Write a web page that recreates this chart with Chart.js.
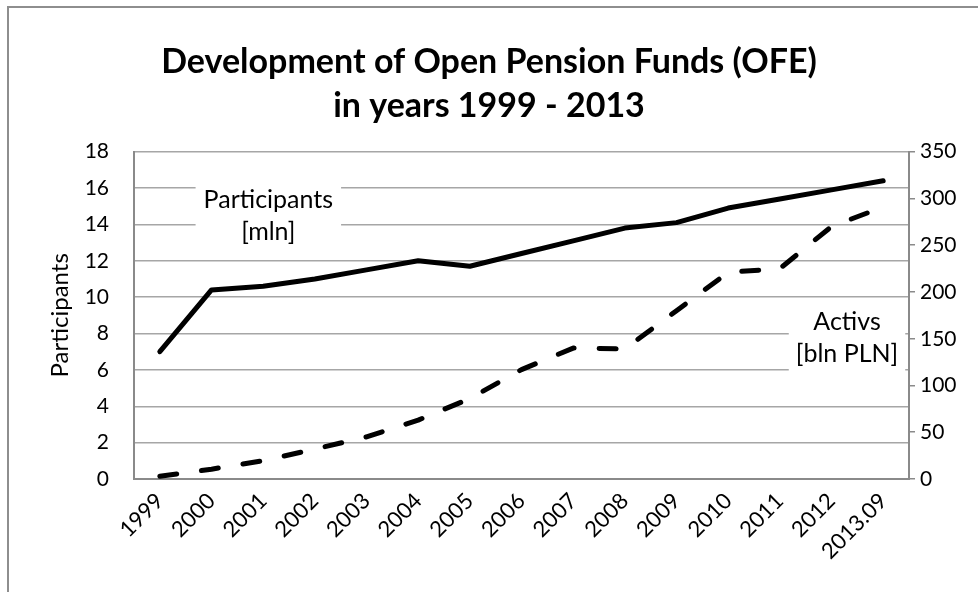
<!DOCTYPE html>
<html>
<head>
<meta charset="utf-8">
<script src="https://cdn.jsdelivr.net/npm/chart.js@4.4.1/dist/chart.umd.min.js"></script>
<style>
  html, body { margin: 0; padding: 0; background: #fff; overflow: hidden; }
  #wrap { position: relative; width: 978px; height: 592px; }
  #frame {
    position: absolute; left: 7px; top: 6px; width: 1000px; height: 700px;
    border: 2px solid #8e8e8e; box-sizing: border-box;
  }
  #chart { position: absolute; left: 0; top: 0; }
</style>
</head>
<body>
<div id="wrap">
  <div id="frame"></div>
  <canvas id="chart" width="978" height="592"></canvas>
</div>
<script>
// Chart data
const years = [
  "1999", "2000", "2001", "2002", "2003", "2004", "2005", "2006",
  "2007", "2008", "2009", "2010", "2011", "2012", "2013.09",
];
const participants = [
  7.0, 10.4, 10.6, 11.0, 11.5, 12.0, 11.7, 12.4, 13.1, 13.8, 14.1, 14.9,
  15.4, 15.9, 16.4,
];
const activs = [
  3, 10.5, 19.5, 32, 45, 63, 86, 117, 140, 139, 180, 221, 225, 270, 291,
];
const titleLines = ["Development of Open Pension Funds (OFE)", "in years 1999 - 2013"];

const FONT = "Lato, 'Open Sans', sans-serif";

// Text boxes inside the plot (placed through the scales)
const boxLabels = [
  { lines: ["Participants", "[mln]"], x: 2.1, y: 14.45, axis: "y", padX: 8 },
  { lines: ["Activs", "[bln PLN]"], x: 13.3, y: 151, axis: "y1", padX: 7 },
];

const boxLabelPlugin = {
  id: "boxLabels",
  beforeDatasetsDraw(chart) {
    const ctx = chart.ctx;
    ctx.save();
    ctx.font = "25px " + FONT;
    ctx.textAlign = "center";
    ctx.textBaseline = "middle";
    boxLabels.forEach((b) => {
      const cx = chart.scales.x.getPixelForValue(b.x);
      const cy = chart.scales[b.axis].getPixelForValue(b.y);
      const gap = 32;
      const w = Math.max(...b.lines.map((l) => ctx.measureText(l).width)) + b.padX * 2;
      const h = gap * b.lines.length + 6;
      ctx.fillStyle = "#ffffff";
      ctx.fillRect(cx - w / 2, cy - h / 2, w, h);
      ctx.fillStyle = "#000000";
      b.lines.forEach((l, i) => {
        ctx.fillText(l, cx, cy + (i - (b.lines.length - 1) / 2) * gap);
      });
    });
    ctx.restore();
  },
};

const chart = document.querySelector("#chart").getContext("2d");

new Chart(chart, {
  type: "line",
  data: {
    labels: years,
    datasets: [
      {
        label: "Participants",
        data: participants,
        yAxisID: "y",
        borderColor: "#000000",
        borderWidth: 5,
        borderJoinStyle: "round",
        borderCapStyle: "round",
        pointRadius: 0,
        tension: 0,
      },
      {
        label: "Activs",
        data: activs,
        yAxisID: "y1",
        borderColor: "#000000",
        borderWidth: 5,
        borderDash: [17, 25],
        borderJoinStyle: "round",
        borderCapStyle: "round",
        pointRadius: 0,
        tension: 0,
      },
    ],
  },
  options: {
    responsive: false,
    animation: false,
    devicePixelRatio: 1,
    layout: { padding: { left: 0, right: 0, top: 40, bottom: 0 } },
    plugins: {
      legend: { display: false },
      tooltip: { enabled: false },
      title: {
        display: true,
        text: titleLines,
        color: "#000000",
        font: { family: FONT, size: 34, weight: "bold", lineHeight: 1.29 },
        padding: { top: 0, bottom: 24 },
      },
    },
    scales: {
      x: {
        offset: true,
        grid: { display: false, drawTicks: false },
        border: { display: true, color: "#8a8a8a", width: 2 },
        ticks: {
          color: "#000000",
          font: { family: FONT, size: 22 },
          minRotation: 45,
          maxRotation: 45,
          padding: 9,
          autoSkip: false,
        },
        afterFit(scale) {
          scale.height = 113;
        },
      },
      y: {
        position: "left",
        min: 0,
        max: 18,
        grid: { color: "#a6a6a6", lineWidth: 1.5, drawTicks: false },
        border: { display: true, color: "#8a8a8a", width: 2 },
        ticks: {
          stepSize: 2,
          color: "#000000",
          font: { family: FONT, size: 21 },
          padding: 25,
        },
        title: {
          display: true,
          text: "Participants",
          color: "#000000",
          font: { family: FONT, size: 24, lineHeight: 1.2 },
          padding: { top: 46, bottom: 0 },
        },
        afterFit(scale) {
          scale.width = 134;
        },
      },
      y1: {
        position: "right",
        min: 0,
        max: 350,
        grid: { drawOnChartArea: false, drawTicks: true, tickLength: 6, color: "#8a8a8a", lineWidth: 1.5 },
        border: { display: true, color: "#8a8a8a", width: 2 },
        ticks: {
          stepSize: 50,
          color: "#000000",
          font: { family: FONT, size: 21 },
          padding: 5,
        },
        afterFit(scale) {
          scale.width = 69;
        },
      },
    },
  },
  plugins: [boxLabelPlugin],
});
</script>
</body>
</html>
